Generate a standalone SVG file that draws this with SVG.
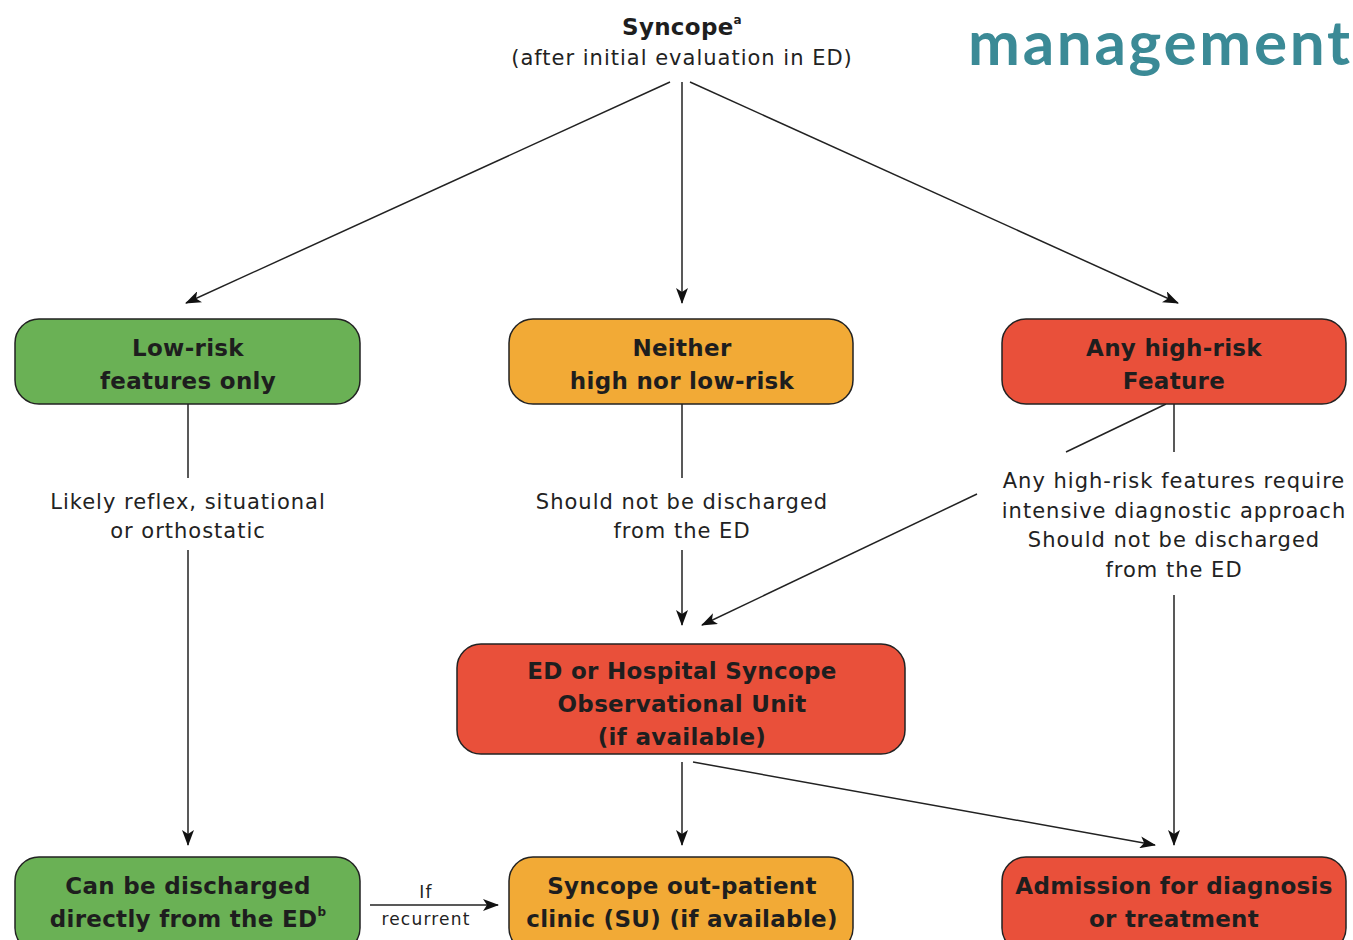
<svg xmlns="http://www.w3.org/2000/svg" width="1353" height="940" viewBox="0 0 1353 940">
  <defs>
    <marker id="arr" viewBox="0 0 16 12" refX="15" refY="6" markerWidth="16" markerHeight="12" markerUnits="userSpaceOnUse" orient="auto">
      <path d="M0,0 L16,6 L0,12 L4,6 Z" fill="#111"/>
    </marker>
    <style>
      .box { stroke: #222; stroke-width: 1.5; }
      .green { fill: #6ab155; }
      .orange { fill: #f2aa36; }
      .red { fill: #e9503a; }
      .nt { font-family: "DejaVu Sans", "Liberation Sans", sans-serif; font-weight: bold; font-size: 23px; fill: #1e1e1e; text-anchor: middle; letter-spacing: 0.3px; }
      .lbl { font-family: "DejaVu Sans", "Liberation Sans", sans-serif; font-size: 21px; fill: #222; text-anchor: middle; letter-spacing: 1px; }
      .small { font-family: "DejaVu Sans", "Liberation Sans", sans-serif; font-size: 17px; fill: #222; text-anchor: middle; letter-spacing: 1.2px; }
      .ln { stroke: #222; stroke-width: 1.5; fill: none; }
      .ar { stroke: #222; stroke-width: 1.5; fill: none; marker-end: url(#arr); }
    </style>
  </defs>
  <rect width="1353" height="940" fill="#fff"/>

  <!-- heading -->
  <text x="968" y="65" font-family="Lato, 'Open Sans', sans-serif" font-weight="bold" font-size="62" fill="#3b8a96" textLength="382" lengthAdjust="spacing">management</text>

  <g id="start">
    <text x="682" y="35" class="nt" font-size="25">Syncope<tspan font-size="12" dy="-11">a</tspan></text>
    <text x="682" y="65" class="lbl">(after initial evaluation in ED)</text>
  </g>

  <g id="connectors">
    <line class="ar" x1="670" y1="82" x2="186" y2="303"/>
    <line class="ar" x1="682" y1="82" x2="682" y2="303"/>
    <line class="ar" x1="690" y1="82" x2="1178" y2="303"/>

    <line class="ln" x1="188" y1="404" x2="188" y2="478"/>
    <text x="188" y="509" class="lbl">Likely reflex, situational</text>
    <text x="188" y="538" class="lbl">or orthostatic</text>
    <line class="ar" x1="188" y1="550" x2="188" y2="845"/>

    <line class="ln" x1="682" y1="404" x2="682" y2="478"/>
    <text x="682" y="509" class="lbl">Should not be discharged</text>
    <text x="682" y="538" class="lbl">from the ED</text>
    <line class="ar" x1="682" y1="550" x2="682" y2="625"/>

    <line class="ln" x1="1174" y1="404" x2="1174" y2="452"/>
    <line class="ln" x1="1166" y1="404" x2="1066" y2="452"/>
    <text x="1174" y="488" class="lbl">Any high-risk features require</text>
    <text x="1174" y="518" class="lbl">intensive diagnostic approach</text>
    <text x="1174" y="547" class="lbl">Should not be discharged</text>
    <text x="1174" y="577" class="lbl">from the ED</text>
    <line class="ar" x1="977" y1="494" x2="702" y2="625"/>
    <line class="ar" x1="1174" y1="595" x2="1174" y2="845"/>

    <line class="ar" x1="682" y1="762" x2="682" y2="845"/>
    <line class="ar" x1="693" y1="762" x2="1155" y2="845"/>

    <line class="ar" x1="370" y1="905" x2="498" y2="905"/>
    <text x="426" y="898" class="small">If</text>
    <text x="426" y="925" class="small">recurrent</text>
  </g>

  <g id="low-risk">
    <rect class="box green" x="15" y="319" width="345" height="85" rx="24"/>
    <text x="188" y="356" class="nt">Low-risk</text>
    <text x="188" y="389" class="nt">features only</text>
  </g>

  <g id="neither">
    <rect class="box orange" x="509" y="319" width="344" height="85" rx="24"/>
    <text x="682" y="356" class="nt">Neither</text>
    <text x="682" y="389" class="nt">high nor low-risk</text>
  </g>

  <g id="high-risk">
    <rect class="box red" x="1002" y="319" width="344" height="85" rx="24"/>
    <text x="1174" y="356" class="nt">Any high-risk</text>
    <text x="1174" y="389" class="nt">Feature</text>
  </g>

  <g id="obs-unit">
    <rect class="box red" x="457" y="644" width="448" height="110" rx="24"/>
    <text x="682" y="679" class="nt">ED or Hospital Syncope</text>
    <text x="682" y="712" class="nt">Observational Unit</text>
    <text x="682" y="745" class="nt">(if available)</text>
  </g>

  <g id="discharge">
    <rect class="box green" x="15" y="857" width="345" height="95" rx="24"/>
    <text x="188" y="894" class="nt">Can be discharged</text>
    <text x="188" y="927" class="nt">directly from the ED<tspan font-size="12" dy="-11">b</tspan></text>
  </g>

  <g id="clinic">
    <rect class="box orange" x="509" y="857" width="344" height="95" rx="24"/>
    <text x="682" y="894" class="nt">Syncope out-patient</text>
    <text x="682" y="927" class="nt">clinic (SU) (if available)</text>
  </g>

  <g id="admission">
    <rect class="box red" x="1002" y="857" width="344" height="95" rx="24"/>
    <text x="1174" y="894" class="nt">Admission for diagnosis</text>
    <text x="1174" y="927" class="nt">or treatment</text>
  </g>
</svg>
